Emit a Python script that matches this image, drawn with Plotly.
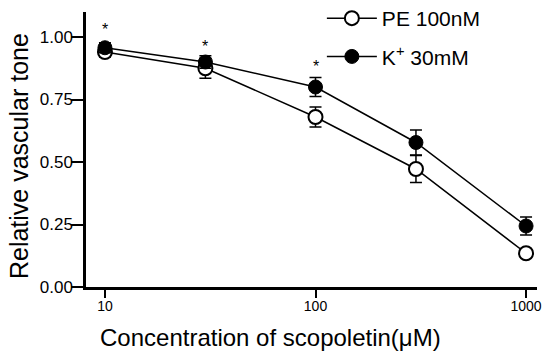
import numpy as np
import plotly.graph_objects as go

conc = [10, 30, 100, 300, 1000]
pe_vals = [0.94, 0.875, 0.68, 0.472, 0.135]
pe_err = [0.02, 0.04, 0.04, 0.054, 0.012]
k_vals = [0.957, 0.90, 0.80, 0.578, 0.244]
k_err = [0.02, 0.025, 0.038, 0.05, 0.036]
star_x = [10, 30, 100]
star_y = [1.032, 0.962, 0.882]
series_names = ["PE 100nM", "K<sup>+</sup> 30mM"]
x_title = "Concentration of scopoletin(μM)"
y_title = "Relative vascular tone"

FONT = "Liberation Sans, Arial, sans-serif"

fig = go.Figure()
fig.add_trace(go.Scatter(
    x=conc, y=pe_vals, name=series_names[0], mode="lines+markers", legendgroup="pe",
    line=dict(color="black", width=1.5),
    marker=dict(symbol="circle", size=14, color="white", line=dict(color="black", width=2)),
    error_y=dict(type="data", array=pe_err, color="black", thickness=1.5, width=6),
))
fig.add_trace(go.Scatter(
    x=conc, y=k_vals, name=series_names[1], mode="lines+markers", legendgroup="k",
    line=dict(color="black", width=1.5),
    marker=dict(symbol="circle", size=14, color="black", line=dict(color="black", width=1)),
    error_y=dict(type="data", array=k_err, color="black", thickness=1.5, width=6),
))

for sx, sy in zip(star_x, star_y):
    fig.add_annotation(x=np.log10(sx), y=sy, text="*", showarrow=False,
                       font=dict(size=16, color="black", family=FONT))

# axis titles placed as annotations (positions as in the reference)
fig.add_annotation(xref="paper", yref="paper", x=0.41, y=0, yanchor="middle",
                   yshift=-50, text=x_title, showarrow=False,
                   font=dict(size=24, color="black", family=FONT))
fig.add_annotation(xref="paper", yref="paper", x=-0.1486, y=0.476,
                   xanchor="center", yanchor="middle", textangle=-90,
                   text=y_title, showarrow=False,
                   font=dict(size=25, color="black", family=FONT))

fig.update_layout(
    width=545, height=354,
    margin=dict(l=86, r=8, t=12, b=67, autoexpand=False),
    paper_bgcolor="white", plot_bgcolor="white",
    font=dict(family=FONT, color="black"),
    showlegend=True,
    legend=dict(x=0.523, y=1.051, xanchor="left", yanchor="top",
                font=dict(size=21, family=FONT), bgcolor="rgba(0,0,0,0)",
                traceorder="grouped", tracegroupgap=8, itemwidth=50),
    xaxis=dict(type="log", range=[np.log10(10) - 0.09, np.log10(1000) + 0.052],
               tickvals=[10, 100, 1000], ticktext=["10", "100", "1000"],
               ticks="outside", ticklen=8, tickwidth=2, tickcolor="black",
               showline=True, linecolor="black", linewidth=2.5,
               showgrid=False, zeroline=False,
               tickfont=dict(size=14), ticklabelstandoff=-4),
    yaxis=dict(range=[0, 1.1], tickvals=[0, 0.25, 0.5, 0.75, 1.0],
               ticktext=["0.00", "0.25", "0.50", "0.75", "1.00"],
               ticks="outside", ticklen=12, tickwidth=2, tickcolor="black",
               showline=True, linecolor="black", linewidth=2.5,
               showgrid=False, zeroline=False,
               tickfont=dict(size=17), ticklabelstandoff=-5),
)

fig.write_html("out.html", config={"displayModeBar": False},
               post_script="document.body.style.margin='0';")
